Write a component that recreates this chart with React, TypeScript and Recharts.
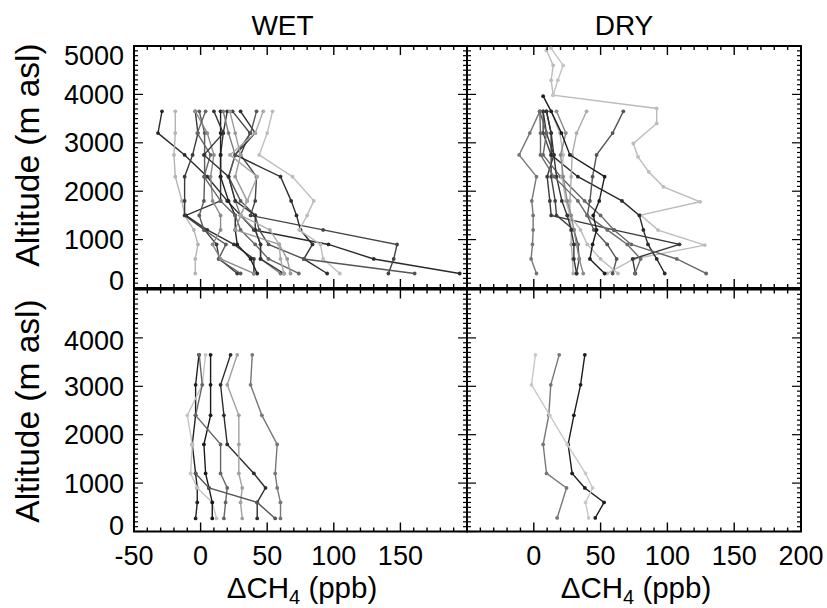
import React from 'react';
import { ScatterChart, Scatter, XAxis, YAxis, ReferenceArea } from 'recharts';

const W = 827;
const H = 608;
const FONT = '"Liberation Sans", Arial, Helvetica, sans-serif';
const AX = 30; // room reserved for each axis

// ---------- tick labels ----------
const xMajorLeft = [-50, 0, 50, 100, 150];
const xMajorRight = [0, 50, 100, 150, 200];
const yMajorTop = [0, 1000, 2000, 3000, 4000, 5000];
const yMajorBottom = [0, 1000, 2000, 3000, 4000];

// ---------- WET, top row ----------
const wetTopLevels = [3650, 3200, 2750, 2300, 1800, 1500, 1200, 900, 600, 300];
const wetTopProfiles: (number | null)[][] = [
  [-29, -32, -12, 5, 20, 30, 40, 96, 130, 194.5],
  [-19, -19, -20, -19, -14, -12, -5, -2, -4, -4],
  [-4, -2, -6, -12, -12, -12, 3, 12, 14, 27.5],
  [20, 17, 15, 15, 15, -11, 5, 25, 40, 40],
  [-1, 3, 3, 3, 2.5, -1, 2.5, 19, 13.5, 30],
  [15, 15, 15, 15, 21, 26, 26, 27.5, 37.5, 42.5],
  [17, 21, 26, 21, 26, 30, 41, 45, 45, 60],
  [24, 37, 30, 42, 41, 37.5, 92, 147.5, 145, 141],
  [30, 41, 26, 60, 68, 72, 75, 84, 77.5, 95],
  [54, 50, 44, 69, 85, 80, 74, 90, 92, 104.5],
  [42, 37.5, 26, 21, 30, 41, 44, 51, 77.5, 160.7],
  [-4, 5, 10, 7.5, 9, 15, 15, 9, 15, 40],
  [3.75, -2.5, 7.5, 2.5, 15, 26, 30, 41, 51, 73.7],
  [22, 26, 30, 26, 35, 30, 26, 59, 65, 67.5],
  [10, 17, 2.5, 21, 26, 41, 41, 45, 45, 62.5],
  [47, 41, 22, 42.5, 35, 30, 52, 59, 60, 62.5],
];
const wetTopShades = [
  '#2a2a2a', '#b4b4b4', '#3a3a3a', '#333333', '#5a5a5a', '#222222', '#7a7a7a', '#444444',
  '#2e2e2e', '#bdbdbd', '#555555', '#8c8c8c', '#666666', '#9a9a9a', '#333333', '#a8a8a8',
];

// ---------- DRY, top row ----------
const dryTopLevels = [3650, 3200, 2750, 2300, 1800, 1500, 1200, 900, 600, 300];
const dryTopProfiles: (number | null)[][] = [
  [4.5, -3, -11, 2, -1.5, -0.5, -0.5, -1, -2, 2],
  [7, 7, 13, 13, 16, 17, 30, 33, 34, 32],
  [9.5, 13, 13, 33, 66, 79, 82, 85.5, 92, 98],
  [7, 9.5, 15, 10, 12, 13, 60, 109, 74, 76],
  [4.5, 9.5, 7, 20, 38, 50, 60, 73, 107, 129],
  [67, 59, 47, 44, 42, 40, 45, 55, 62, 59],
  [39.5, 32, 28.7, 28, 27, 27, 28, 28, 29, 29.5],
  [13, 19.5, 22, 21, 24, 27, 35, 40, 50, 63],
  [17, 24, 20, 22, 25, 28, 30, 32, 34, 37],
  [9.5, 13, 15, 17, 21, 25, 28, 30, 30, 32],
  [4.5, 5, 5, 15, 33, 40, 55, 70, 80, 75.6],
];
const dryTopShades = [
  '#777777', '#444444', '#2a2a2a', '#3a3a3a', '#666666', '#555555',
  '#acacac', '#bbbbbb', '#8a8a8a', '#333333', '#6a6a6a',
];
// profiles sampled on their own altitudes
const dryTopDarkAlt = [3963, 3650, 3200, 2750, 2300, 1800, 1500, 1200, 900, 600, 300];
const dryTopDarkVals = [7, 13, 20.7, 27, 53, 49, 44.5, 47, 44, 42, 53];
const dryTopHighAlt = [4912, 4600, 4293, 3983, 3710, 3400, 2986, 2710, 2400, 2090, 1781, 1507, 1197, 887, 600, 300];
const dryTopHighVals = [9.5, 14.5, 13, 14.5, 92, 92, 74.5, 78, 86, 97, 124.5, 80, 93, 128, 75, 55];
const dryTopHigh2Alt = [4950, 4600, 4293, 3983];
const dryTopHigh2Vals = [13, 22, 18, 14.5];

// ---------- WET, bottom row ----------
const wetBottomLevels = [3650, 3030, 2400, 1800, 1200, 900, 600, 270];
const wetBottomProfiles: (number | null)[][] = [
  [-1.25, -3.75, -3.75, -6.25, -3.75, -2.5, -2.5, -3.75],
  [3.75, 1.25, -10, -6.25, -7.5, -2.5, 8.75, 12],
  [7.5, 7.5, 7.5, 2.5, 3.75, 6.25, 8.75, 8.75],
  [22.5, 15, 17.5, 20, 40, 48.75, 42.5, 42.5],
  [-1, 1.25, -3.75, 15, 15, 20, 18.75, 17.5],
  [27.5, 20, 28.7, 28.7, 28.7, 31.25, 30, 31.25],
  [38.8, 37.5, 46, 57.5, 56, 57.5, 60, 60],
  [null, null, null, null, -3.75, 6.25, 42.5, 56],
];
const wetBottomShades = ['#222222', '#c4c4c4', '#1a1a1a', '#2e2e2e', '#666666', '#a0a0a0', '#777777', '#555555'];

// ---------- DRY, bottom row ----------
const dryBottomLevels = [3650, 3030, 2400, 1800, 1200, 900, 600, 280];
const dryBottomProfiles: (number | null)[][] = [
  [38.2, 35, 30, 25.7, 28.7, 38.2, 52.6, 46],
  [19, 12.7, 11.2, 7, 9.5, 24.5, null, 17.5],
  [1.2, -1.7, 12, 25, 38.7, 44, 38.7, 41],
];
const dryBottomShades = ['#1e1e1e', '#777777', '#c8c8c8'];

// ---------- helpers ----------
type Pt = { x: number; y: number };
type Series = { pts: Pt[]; color: string };

const onLevels = (levels: number[], vals: (number | null)[]): Pt[] =>
  levels
    .map((y, i) => ({ x: vals[i] as number, y }))
    .filter((p) => p.x !== null && p.x !== undefined);

const fromProfiles = (levels: number[], profiles: (number | null)[][], shades: string[]): Series[] =>
  profiles.map((vals, i) => ({ pts: onLevels(levels, vals), color: shades[i] }));

const wetTopSeries = fromProfiles(wetTopLevels, wetTopProfiles, wetTopShades);
const dryTopSeries: Series[] = [
  { pts: onLevels(dryTopHighAlt, dryTopHighVals), color: '#bcbcbc' },
  { pts: onLevels(dryTopHigh2Alt, dryTopHigh2Vals), color: '#c4c4c4' },
  ...fromProfiles(dryTopLevels, dryTopProfiles, dryTopShades),
  { pts: onLevels(dryTopDarkAlt, dryTopDarkVals), color: '#1e1e1e' },
];
const wetBottomSeries = fromProfiles(wetBottomLevels, wetBottomProfiles, wetBottomShades);
const dryBottomSeries = fromProfiles(dryBottomLevels, dryBottomProfiles, dryBottomShades);

const xTickVals: number[] = [];
for (let v = -50; v <= 200; v += 10) xTickVals.push(v);
const yTickVals: number[] = [];
for (let v = 0; v <= 5000; v += 100) yTickVals.push(v);

// custom tick renderers: inward ticks on both sides of the frame, labels outside
const makeXTick = (labels: number[], plotH: number, axisY: number) => (props: any) => {
  const { x, payload } = props;
  const y = axisY;
  const v = payload.value;
  const major = v % 50 === 0;
  const len = major ? 9 : 4;
  return (
    <g>
      <line x1={x} y1={y} x2={x} y2={y - len} stroke="#000" strokeWidth={1.4} />
      <line x1={x} y1={y - plotH} x2={x} y2={y - plotH + len} stroke="#000" strokeWidth={1.4} />
      {labels.includes(v) ? (
        <text x={x} y={y + 33} textAnchor="middle" fontFamily={FONT} fontSize={27} fill="#000">
          {v}
        </text>
      ) : null}
    </g>
  );
};

const makeYTick = (labels: number[], plotW: number, axisX: number, shift: Record<number, number>) => (props: any) => {
  const { y, payload } = props;
  const x = axisX;
  const v = payload.value;
  const major = v % 1000 === 0;
  const len = major ? 9 : 4;
  return (
    <g>
      <line x1={x} y1={y} x2={x + len} y2={y} stroke="#000" strokeWidth={1.2} />
      <line x1={x + plotW} y1={y} x2={x + plotW - len} y2={y} stroke="#000" strokeWidth={1.2} />
      {labels.includes(v) ? (
        <text
          x={x - 10}
          y={y + 9.5 + (shift[v] || 0)}
          textAnchor="end"
          fontFamily={FONT}
          fontSize={27}
          fill="#000"
        >
          {v}
        </text>
      ) : null}
    </g>
  );
};

type PanelProps = {
  left: number;
  top: number;
  width: number;
  height: number;
  series: Series[];
  xLabels: number[];
  yLabels: number[];
  yShift: Record<number, number>;
};

const dotShape = (color: string) => (p: any) => <circle cx={p.cx} cy={p.cy} r={1.9} fill={color} />;

function Panel({ left, top, width, height, series, xLabels, yLabels, yShift }: PanelProps) {
  const margin = { left: left - AX, top, right: W - left - width, bottom: H - top - height - AX };
  return (
    <div style={{ position: 'absolute', left: 0, top: 0, width: W, height: H }}>
      <ScatterChart width={W} height={H} margin={margin}>
        <XAxis
          type="number"
          dataKey="x"
          domain={[-50, 200]}
          ticks={xTickVals}
          interval={0}
          height={AX}
          tickLine={false}
          axisLine={false}
          allowDataOverflow
          tick={makeXTick(xLabels, height, top + height)}
        />
        <YAxis
          type="number"
          dataKey="y"
          domain={[0, 5000]}
          ticks={yTickVals}
          interval={0}
          width={AX}
          tickLine={false}
          axisLine={false}
          allowDataOverflow
          tick={makeYTick(yLabels, width, left, yShift)}
        />
        {series.map((s, i) => (
          <Scatter
            key={i}
            data={s.pts}
            fill={s.color}
            line={{ stroke: s.color, strokeWidth: 1.4 }}
            shape={dotShape(s.color)}
            isAnimationActive={false}
          />
        ))}
        <ReferenceArea
          x1={-50}
          x2={200}
          y1={0}
          y2={5000}
          fill="none"
          fillOpacity={0}
          stroke="#000"
          strokeWidth={2}
          ifOverflow="visible"
        />
      </ScatterChart>
    </div>
  );
}

export default function App() {
  const xLabelText = (cx: number) => (
    <text x={cx} y={598} textAnchor="middle" fontFamily={FONT} fontSize={29.5} fill="#000">
      ΔCH
      <tspan fontSize={20} dy={6}>4</tspan>
      <tspan dy={-6}> (ppb)</tspan>
    </text>
  );
  return (
    <div style={{ position: 'absolute', left: 0, top: 0, width: W, height: H, background: '#fff' }}>
      <Panel left={134} top={46} width={333} height={242} series={wetTopSeries}
        xLabels={[]} yLabels={yMajorTop} yShift={{ 5000: 9, 0: -8 }} />
      <Panel left={467} top={46} width={334} height={242} series={dryTopSeries}
        xLabels={[]} yLabels={[]} yShift={{}} />
      <Panel left={134} top={289.5} width={333} height={242} series={wetBottomSeries}
        xLabels={xMajorLeft} yLabels={yMajorBottom} yShift={{ 4000: 3, 0: -6 }} />
      <Panel left={467} top={289.5} width={334} height={242} series={dryBottomSeries}
        xLabels={xMajorRight} yLabels={[]} yShift={{}} />
      <svg width={W} height={H} style={{ position: 'absolute', left: 0, top: 0, pointerEvents: 'none' }}>
        <text x={282.5} y={35} textAnchor="middle" fontFamily={FONT} fontSize={28} fill="#000">WET</text>
        <text x={624} y={35} textAnchor="middle" fontFamily={FONT} fontSize={28} fill="#000">DRY</text>
        <text transform="translate(39,155) rotate(-90)" textAnchor="middle" fontFamily={FONT} fontSize={33.5} fill="#000">
          Altitude (m asl)
        </text>
        <text transform="translate(39,411) rotate(-90)" textAnchor="middle" fontFamily={FONT} fontSize={33.5} fill="#000">
          Altitude (m asl)
        </text>
        {xLabelText(302)}
        {xLabelText(636)}
      </svg>
    </div>
  );
}
